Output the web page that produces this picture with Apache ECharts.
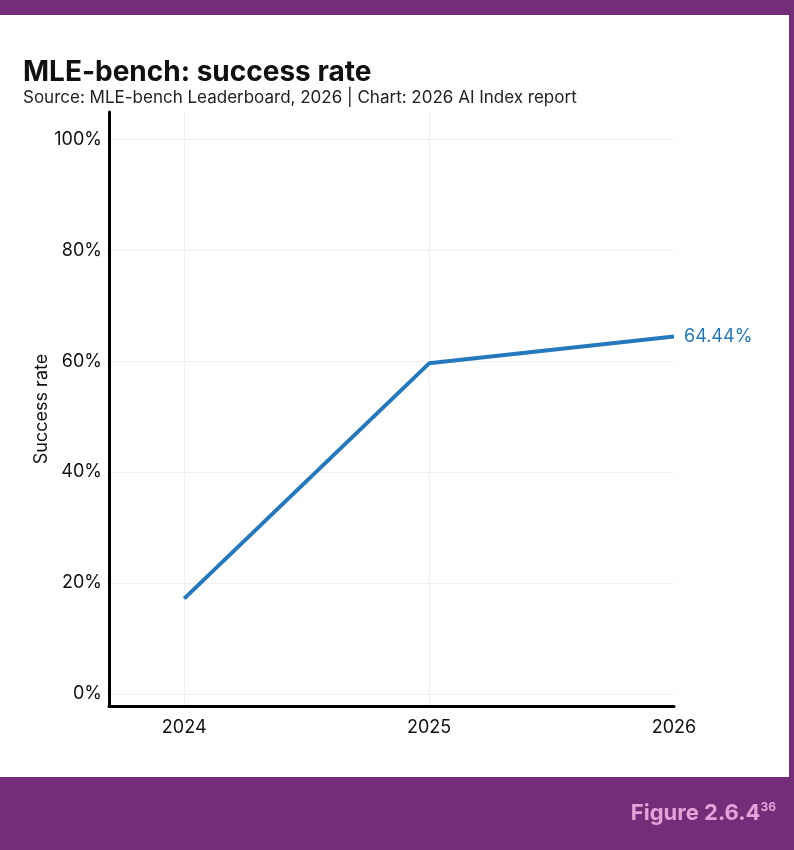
<!DOCTYPE html>
<html><head><meta charset="utf-8">
<script src="https://cdn.jsdelivr.net/npm/echarts@6/dist/echarts.min.js"></script>
<style>html,body{margin:0;padding:0;background:#732D79;}#c{width:794px;height:850px;}</style>
</head><body><div id="c"></div>
<script>
const years = [2024, 2025, 2026];
const successRate = [17.2, 59.6, 64.44];
const yTicks = [0, 20, 40, 60, 80, 100];
const xTicks = [2024, 2025, 2026];
const xGridYears = [2024, 2025];

const chart = echarts.init(document.getElementById('c'), null, {renderer: 'canvas'});
const font = 'Inter, "Noto Sans", sans-serif';
chart.setOption({
  backgroundColor: '#732D79',
  animation: false,
  graphic: [
    {type: 'rect', shape: {x: 0, y: 15, width: 789, height: 762}, style: {fill: '#ffffff'}, z: -10},
    {type: 'text', left: 23, top: 59, style: {text: 'MLE-bench: success rate', font: 'bold 28px ' + font, fill: '#111'}},
    {type: 'text', left: 23, top: 89, style: {text: 'Source: MLE-bench Leaderboard, 2026 | Chart: 2026 AI Index report', font: '17px ' + font, fill: '#222'}},
    {type: 'text', right: 18, top: 801, style: {
      rich: {m: {font: 'bold 22px ' + font, fill: '#E3A3D9'}, s: {font: 'bold 12px ' + font, fill: '#E3A3D9', verticalAlign: 'top', padding: [0,0,12,0]}},
      text: '{m|Figure 2.6.4}{s|36}'
    }}
  ],
  grid: {left: 109, right: 120, top: 112, bottom: 144},
  xAxis: {
    type: 'value', min: 2023.693, max: 2026,
    axisLine: {show: true, onZero: false, lineStyle: {color: '#000', width: 3}},
    axisTick: {show: false, customValues: xGridYears},
    axisLabel: {customValues: xTicks, color: '#111', fontSize: 18, fontFamily: font, margin: 13, formatter: v => String(v)},
    splitLine: {show: true, lineStyle: {color: '#f0f0f0', width: 1}}
  },
  yAxis: {
    type: 'value', min: -2.16, max: 104.9,
    name: 'Success rate', nameLocation: 'middle', nameGap: 58, nameRotate: 90, nameMoveOverlap: false,
    nameTextStyle: {color: '#111', fontSize: 18, fontFamily: font},
    axisLine: {show: true, onZero: false, lineStyle: {color: '#000', width: 3}},
    axisTick: {show: false, customValues: yTicks},
    axisLabel: {customValues: yTicks, color: '#111', fontSize: 18, fontFamily: font, margin: 7, formatter: v => v + '%'},
    splitLine: {show: true, lineStyle: {color: '#f0f0f0', width: 1}}
  },
  series: [{
    type: 'line',
    data: years.map((y, i) => [y, successRate[i]]),
    showSymbol: false,
    lineStyle: {color: '#2478BE', width: 4},
    itemStyle: {color: '#2478BE'},
    endLabel: {show: true, formatter: p => p.value[1].toFixed(2) + '%', color: '#2478BE', fontSize: 18, fontFamily: font, distance: 10},
    clip: false
  }]
});
</script></body></html>
